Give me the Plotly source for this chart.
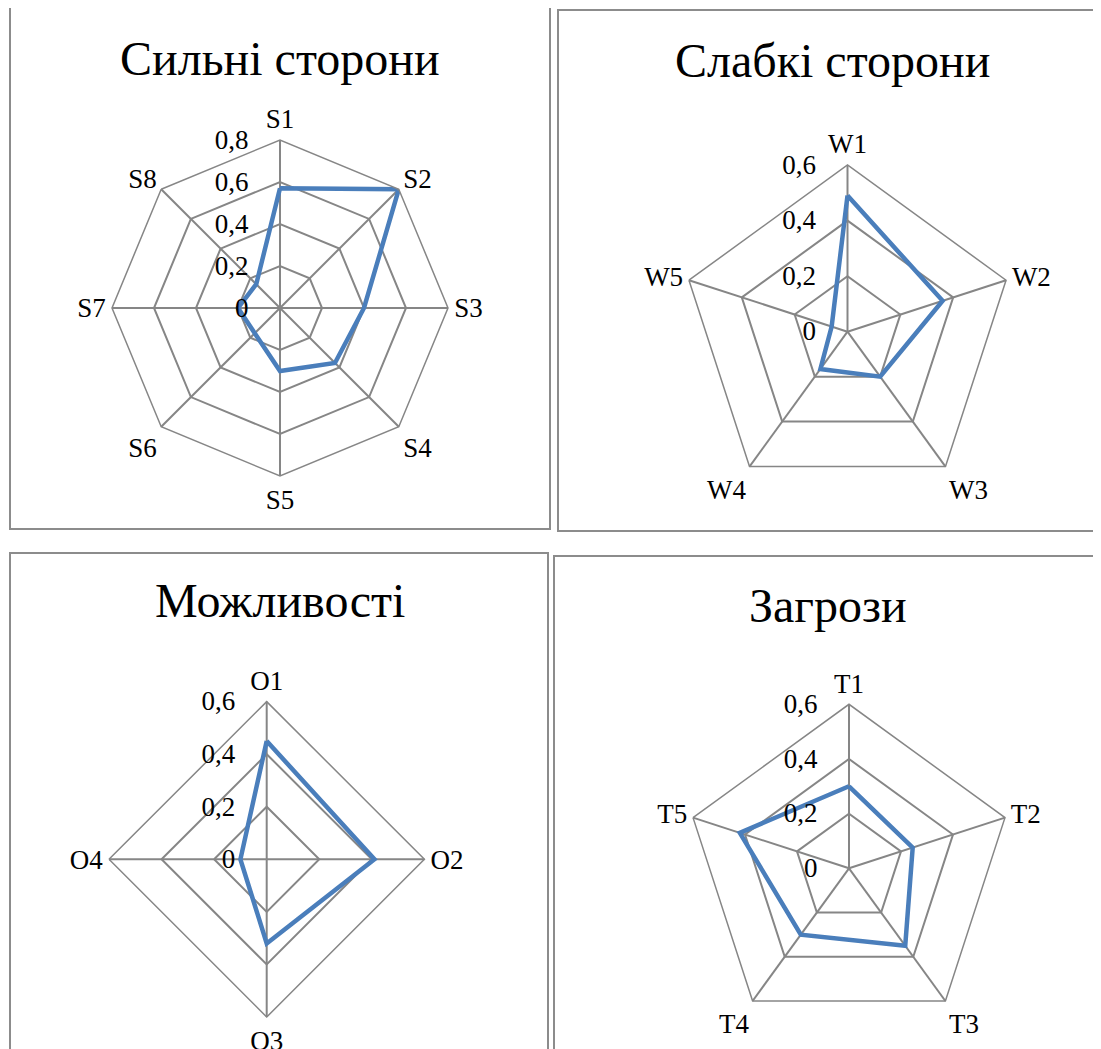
import plotly.graph_objects as go

# ---- data ----
s_labels = ["S1", "S2", "S3", "S4", "S5", "S6", "S7", "S8"]
s_values = [0.57, 0.80, 0.40, 0.37, 0.30, 0.17, 0.20, 0.16]

w_labels = ["W1", "W2", "W3", "W4", "W5"]
w_values = [0.49, 0.36, 0.20, 0.166, 0.06]

o_labels = ["O1", "O2", "O3", "O4"]
o_values = [0.45, 0.41, 0.32, 0.10]

t_labels = ["T1", "T2", "T3", "T4", "T5"]
t_values = [0.30, 0.245, 0.35, 0.30, 0.42]

titles = ["Сильні сторони", "Слабкі сторони", "Можливості", "Загрози"]

s_ticks = [0, 0.2, 0.4, 0.6, 0.8]
s_ticktext = ["0", "0,2", "0,4", "0,6", "0,8"]
wot_ticks = [0, 0.2, 0.4, 0.6]
wot_ticktext = ["0", "0,2", "0,4", "0,6"]

OFF = 8  # page body margin
W, H = 1101 - OFF, 1049 - OFF
FONT = "Liberation Serif"
LINE = "#4A7EBB"
GRID = "#868686"
PAD = "\u00a0" * 4

def fx(x):
    return (x - OFF) / W

def fy(y):
    return 1 - (y - OFF) / H

def px_dom(x0, x1, y0, y1):
    return dict(x=[fx(x0), fx(x1)], y=[fy(y1), fy(y0)])

# centre and outer radius (pixels in the reference) for each chart
geo = [
    (280.0, 308.0, 168.0),
    (847.5, 331.7, 166.7),
    (266.7, 859.3, 157.7),
    (849.0, 868.3, 164.0),
]

fig = go.Figure()
series = [(s_labels, s_values), (w_labels, w_values), (o_labels, o_values), (t_labels, t_values)]
for i, (labs, vals) in enumerate(series):
    sub = "polar" if i == 0 else f"polar{i+1}"
    fig.add_trace(go.Scatterpolar(
        r=vals + vals[:1], theta=labs + labs[:1], mode="lines",
        line=dict(color=LINE, width=4.5), subplot=sub, showlegend=False,
        hoverinfo="skip"))

for i, (cx, cy, R) in enumerate(geo):
    key = "polar" if i == 0 else f"polar{i+1}"
    labs = series[i][0]
    if i == 0:
        tv, tt, rng = s_ticks, s_ticktext, [0, 0.8]
    else:
        tv, tt, rng = wot_ticks, wot_ticktext, [0, 0.6]
    fig.layout[key] = dict(
        domain=px_dom(cx - R, cx + R, cy - R, cy + R),
        gridshape="linear",
        bgcolor="white",
        radialaxis=dict(
            range=rng, tickvals=tv, ticktext=[t + PAD for t in tt],
            angle=90, side="counterclockwise",
            showline=False, ticks="", gridcolor=GRID, gridwidth=1.5,
            tickfont=dict(family=FONT, size=27, color="black"), tickangle=90,
        ),
        angularaxis=dict(
            categoryarray=labs, categoryorder="array",
            direction="clockwise", rotation=90,
            showline=True, linecolor=GRID, linewidth=1.5,
            gridcolor=GRID, gridwidth=1.5, ticks="inside", ticklen=1,
            tickcolor=GRID, tickwidth=1,
            tickfont=dict(family=FONT, size=27, color="black"),
        ),
    )

# chart boxes (reference pixel coordinates)
boxes = [
    (10, 7, 550, 529),
    (558, 10, 1100, 531),
    (10, 553, 548, 1060),
    (554, 556, 1100, 1060),
]
for (x0, y0, x1, y1) in boxes:
    fig.add_shape(type="rect", xref="paper", yref="paper",
                  x0=fx(x0), x1=fx(x1), y0=fy(y1), y1=fy(y0),
                  line=dict(color="#8C8C8C", width=2))

title_pos = [(280, 58), (832, 60), (280, 600), (828, 605)]
for t, (x, y) in zip(titles, title_pos):
    fig.add_annotation(text=t, x=fx(x), y=fy(y), xref="paper", yref="paper",
                       showarrow=False, xanchor="center", yanchor="middle",
                       font=dict(family=FONT, size=48, color="black"))

fig.update_layout(width=W, height=H, margin=dict(l=0, r=0, t=0, b=0),
                  paper_bgcolor="white", plot_bgcolor="white")
fig.write_html("out.html")
